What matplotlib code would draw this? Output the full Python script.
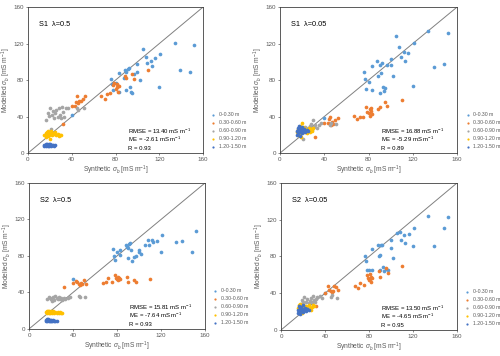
import matplotlib
matplotlib.use("Agg")
import matplotlib.pyplot as plt

plt.rcParams['font.family'] = ['Liberation Sans', 'DejaVu Sans']
plt.rcParams['mathtext.fontset'] = 'custom'
plt.rcParams['mathtext.rm'] = 'Liberation Sans'
plt.rcParams['mathtext.it'] = 'Liberation Sans:italic'

# depth classes and colours (Excel default palette)
classes = ['0-0.30 m', '0.30-0.60 m', '0.60-0.90 m', '0.90-1.20 m', '1.20-1.50 m']
colors = ['#5B9BD5', '#ED7D31', '#A5A5A5', '#FFC000', '#4472C4']

# synthetic conductivity per depth class (same in every panel)
x_d1 = [40, 76, 77, 78, 80, 83, 83, 88, 89, 90, 90, 91, 92, 93, 94, 95, 97, 100, 100, 102,
        105, 108, 109, 112, 113, 116, 120, 121, 134, 139, 148, 152]
x_d2 = [32, 40, 43, 44, 45, 46, 47, 48, 50, 52, 67, 70, 72, 75, 78, 79, 80, 81, 81, 82,
        82, 83, 89, 90, 95, 97, 110]
x_d3 = [16, 18, 19, 20, 21, 22, 23, 24, 25, 26, 27, 28, 29, 30, 31, 32, 33, 35, 37, 45, 46, 51]
x_d4 = [15, 16, 16, 17, 17, 18, 18, 19, 19, 20, 20, 21, 21, 22, 23, 24, 25, 26, 27, 28, 29, 30]
x_d5 = [15, 15, 16, 16, 17, 17, 18, 18, 19, 19, 20, 20, 21, 22, 23, 24, 25]

# modelled conductivity, S1 lambda=0.5
s1a_d1 = [42, 81, 76, 69, 77, 88, 67, 82, 91, 89, 69, 92, 93, 72, 67, 66, 87, 98, 89, 80,
          114, 105, 99, 101, 96, 104, 72, 109, 121, 91, 89, 119]
s1a_d2 = [32, 52, 52, 56, 63, 55, 57, 57, 59, 63, 63, 59, 65, 66, 75, 77, 70, 72, 76, 74,
          67, 74, 84, 82, 87, 81, 91]
s1a_d3 = [36, 44, 41, 49, 26, 42, 46, 38, 44, 47, 40, 49, 42, 38, 51, 45, 40, 49, 49, 49, 47, 49]
s1a_d4 = [20, 22, 18, 23, 21, 19, 24, 22, 20, 23, 15, 21, 24, 20, 22, 21, 23, 20, 21, 19, 20, 20]
s1a_d5 = [9, 8, 10, 8, 9, 10, 8, 9, 10, 8, 9, 10, 8, 9, 9, 8, 9]

# modelled conductivity, S1 lambda=0.05
s1b_d1 = [38, 89, 81, 70, 78, 96, 69, 101, 85, 97, 66, 88, 99, 72, 68, 71, 97, 103, 97, 84,
          128, 116, 105, 111, 101, 110, 74, 121, 134, 94, 98, 132]
s1b_d2 = [18, 33, 33, 37, 40, 31, 34, 32, 36, 39, 41, 37, 40, 40, 50, 45, 44, 48, 41, 49,
          46, 43, 48, 50, 56, 52, 58]
s1b_d3 = [25, 27, 22, 28, 15, 26, 29, 24, 28, 27, 30, 32, 25, 36, 29, 31, 27, 31, 33, 31, 33, 32]
s1b_d4 = [23, 26, 20, 28, 24, 22, 30, 25, 18, 27, 33, 24, 29, 23, 26, 22, 25, 27, 23, 26, 24, 28]
s1b_d5 = [24, 20, 28, 22, 26, 30, 23, 19, 27, 25, 22, 29, 24, 26, 23, 25, 24]

# modelled conductivity, S2 lambda=0.5
s2a_d1 = [55, 88, 80, 76, 84, 86, 81, 92, 90, 89, 78, 93, 94, 86, 75, 79, 80, 87, 84, 82,
          92, 98, 92, 98, 95, 96, 84, 103, 95, 96, 84, 107]
s2a_d2 = [46, 50, 53, 51, 49, 48, 50, 49, 54, 49, 50, 51, 56, 51, 59, 56, 55, 57, 54, 56,
          55, 55, 57, 51, 54, 52, 55]
s2a_d3 = [33, 35, 34, 33, 31, 35, 32, 36, 34, 33, 35, 33, 34, 32, 33, 34, 33, 34, 35, 36, 35, 35]
s2a_d4 = [19, 20, 18, 20, 19, 18, 20, 19, 18, 20, 19, 18, 19, 20, 18, 19, 18, 19, 18, 19, 18, 18]
s2a_d5 = [10, 9, 11, 9, 10, 11, 9, 10, 9, 10, 9, 10, 9, 10, 9, 9, 9]

# modelled conductivity, S2 lambda=0.05
s2b_d1 = [40, 81, 75, 65, 65, 88, 65, 93, 80, 82, 65, 92, 93, 69, 64, 66, 65, 98, 89, 78,
          106, 107, 98, 103, 95, 104, 91, 111, 124, 91, 111, 123]
s2b_d2 = [26, 40, 48, 43, 42, 41, 42, 48, 47, 44, 48, 46, 51, 49, 60, 57, 54, 61, 55, 58,
          52, 57, 64, 58, 68, 62, 70]
s2b_d3 = [22, 28, 33, 30, 36, 26, 31, 34, 29, 32, 35, 31, 37, 33, 30, 34, 36, 37, 35, 36, 38, 35]
s2b_d4 = [24, 27, 21, 25, 28, 22, 26, 24, 18, 27, 23, 25, 22, 24, 26, 23, 27, 24, 22, 25, 27, 26]
s2b_d5 = [22, 19, 26, 20, 24, 17, 22, 25, 21, 23, 20, 27, 22, 24, 21, 23, 22]

titles = ['S1  λ=0.5', 'S1  λ=0.05', 'S2  λ=0.5', 'S2  λ=0.05']
stats = [('13.40', '-2.61', '0.93'), ('16.88', '-5.29', '0.89'),
         ('15.81', '-7.64', '0.93'), ('13.50', '-4.65', '0.95')]
panels = [[s1a_d1, s1a_d2, s1a_d3, s1a_d4, s1a_d5],
          [s1b_d1, s1b_d2, s1b_d3, s1b_d4, s1b_d5],
          [s2a_d1, s2a_d2, s2a_d3, s2a_d4, s2a_d5],
          [s2b_d1, s2b_d2, s2b_d3, s2b_d4, s2b_d5]]
xs = [x_d1, x_d2, x_d3, x_d4, x_d5]

# axes rectangles [left, bottom, width, height] in figure fractions
rects = [[0.056, 0.570, 0.350, 0.410],
         [0.560, 0.570, 0.354, 0.410],
         [0.058, 0.076, 0.352, 0.410],
         [0.562, 0.073, 0.352, 0.413]]

fig = plt.figure(figsize=(5.0, 3.56), dpi=100)
grey = '#595959'

for k in range(4):
    ax = fig.add_axes(rects[k])
    for x, y, c, lab in zip(xs, panels[k], colors, classes):
        ax.scatter(x, y, s=7, color=c, label=lab, linewidths=0, zorder=3)
    ax.plot([0, 160], [0, 160], color='#808080', lw=0.7, zorder=2)
    ax.set_xlim(0, 160)
    ax.set_ylim(0, 160)
    ax.set_xticks([0, 40, 80, 120, 160])
    ax.set_yticks([0, 40, 80, 120, 160])
    ax.tick_params(labelsize=4.5, labelcolor=grey, length=1.5, width=0.5, pad=1.5, color=grey)
    for sp in ax.spines.values():
        sp.set_linewidth(0.6)
        sp.set_color('#404040')
    ax.set_xlabel(r'Synthetic $\sigma_b$ [mS m$^{-1}$]', fontsize=4.8, color=grey, labelpad=1)
    ax.set_ylabel(r'Modelled $\sigma_b$ [mS m$^{-1}$]', fontsize=4.8, color=grey, labelpad=0.5)
    ax.text(10, 141, titles[k], fontsize=5.3, va='center')
    r, m, rr = stats[k]
    ax.text(91, 21, 'RMSE = ' + r + r' mS m$^{-1}$', fontsize=4.3, va='baseline')
    ax.text(91, 12, 'ME = ' + m + r' mS m$^{-1}$', fontsize=4.3, va='baseline')
    ax.text(91, 3, 'R = ' + rr, fontsize=4.3, va='baseline')
    ax.legend(loc='lower left', bbox_to_anchor=(1.01, 0.0), frameon=False, fontsize=3.7,
              handletextpad=0.0, labelspacing=0.6, markerscale=0.6, borderaxespad=0.3,
              labelcolor=grey)

fig.savefig('out.png', dpi=100)
